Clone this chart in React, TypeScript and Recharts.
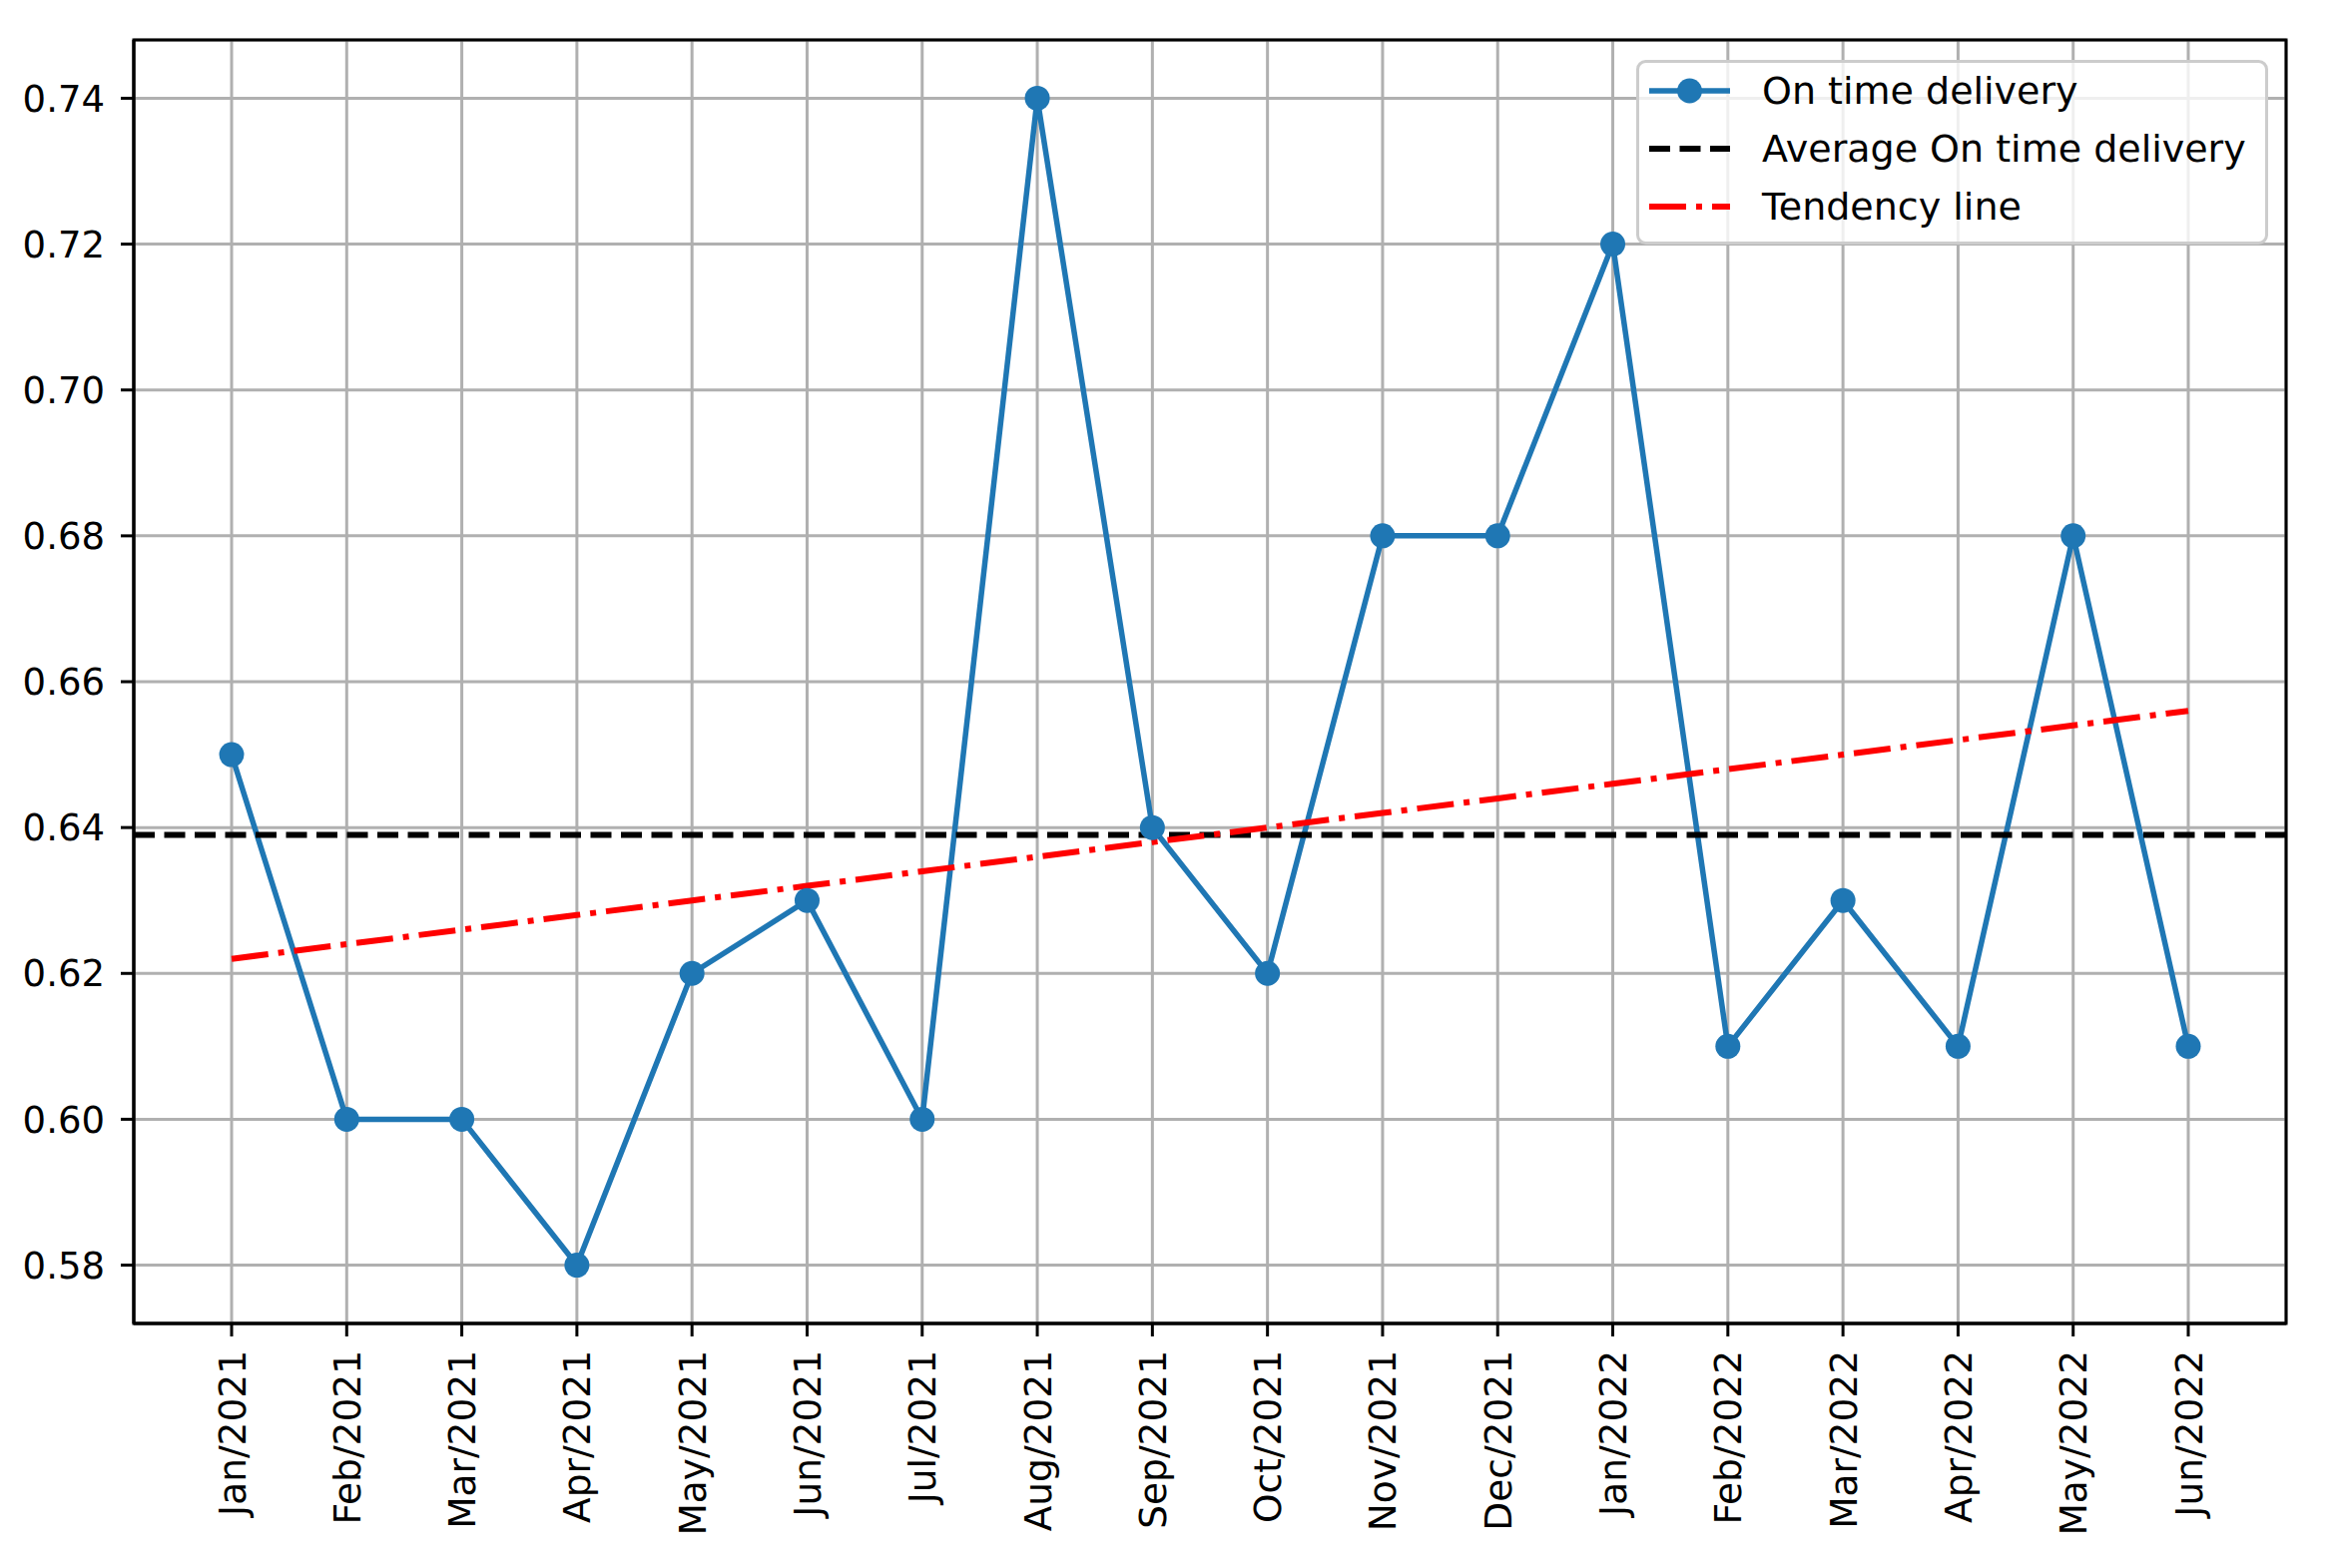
import React from "react";
import {
  LineChart,
  Line,
  XAxis,
  YAxis,
  CartesianGrid,
  ReferenceLine,
  ReferenceArea,
} from "recharts";

const MONTHS = [
  "Jan/2021", "Feb/2021", "Mar/2021", "Apr/2021", "May/2021", "Jun/2021",
  "Jul/2021", "Aug/2021", "Sep/2021", "Oct/2021", "Nov/2021", "Dec/2021",
  "Jan/2022", "Feb/2022", "Mar/2022", "Apr/2022", "May/2022", "Jun/2022",
];
const ON_TIME = [
  0.65, 0.6, 0.6, 0.58, 0.62, 0.63, 0.6, 0.74, 0.64,
  0.62, 0.68, 0.68, 0.72, 0.61, 0.63, 0.61, 0.68, 0.61,
];
const TENDENCY = [
  0.622, 0.624, 0.626, 0.628, 0.63, 0.632, 0.634, 0.636, 0.638,
  0.64, 0.642, 0.644, 0.646, 0.648, 0.65, 0.652, 0.654, 0.656,
];
const AVERAGE = 0.639;
const Y_TICKS = [0.58, 0.6, 0.62, 0.64, 0.66, 0.68, 0.7, 0.72, 0.74];

const FONT = "DejaVu Sans";
const BLUE = "#1f77b4";
const RED = "#ff0000";
const X_DOMAIN = [-0.85, 17.85];
const Y_DOMAIN = [0.572, 0.748];

const data = MONTHS.map((month, i) => ({
  idx: i,
  month,
  onTime: ON_TIME[i],
  tendency: TENDENCY[i],
}));
const xTicks = MONTHS.map((_, i) => i);

function MonthTick({ x, y, payload }: any) {
  return (
    <g transform={`translate(${x},${y})`}>
      <text
        transform="rotate(-90)"
        textAnchor="end"
        dy="0.36em"
        fontSize={37.5}
        fontFamily={FONT}
        fill="#000"
      >
        {MONTHS[payload.value]}
      </text>
    </g>
  );
}

function LegendBox() {
  const rows = [
    { label: "On time delivery", y: 31 },
    { label: "Average On time delivery", y: 89 },
    { label: "Tendency line", y: 147 },
  ];
  return (
    <svg
      width={634}
      height={186}
      style={{ position: "absolute", left: 1639, top: 60 }}
    >
      <rect
        x={1.5}
        y={1.5}
        width={630}
        height={182}
        rx={8}
        fill="#fff"
        fillOpacity={0.8}
        stroke="#cccccc"
        strokeWidth={3}
      />
      <line x1={13} x2={94} y1={rows[0].y} y2={rows[0].y} stroke={BLUE} strokeWidth={5.5} />
      <circle cx={53.5} cy={rows[0].y} r={12.5} fill={BLUE} />
      <line
        x1={13} x2={94} y1={rows[1].y} y2={rows[1].y}
        stroke="#000" strokeWidth={6} strokeDasharray="21 9.5"
      />
      <line
        x1={13} x2={94} y1={rows[2].y} y2={rows[2].y}
        stroke={RED} strokeWidth={6} strokeDasharray="37 10 6 10"
      />
      {rows.map((r) => (
        <text
          key={r.label}
          x={126}
          y={r.y + 13}
          fontSize={38}
          fontFamily={FONT}
          fill="#000"
        >
          {r.label}
        </text>
      ))}
    </svg>
  );
}

export default function App() {
  const axisStroke = { stroke: "#000", strokeWidth: 3 };
  return (
    <div
      style={{
        position: "absolute",
        left: 0,
        top: 0,
        width: 2346,
        height: 1571,
        background: "#fff",
      }}
    >
      <LineChart
        width={2346}
        height={1571}
        data={data}
        margin={{ top: 40, right: 56, bottom: 0, left: 0 }}
      >
        <CartesianGrid stroke="#b0b0b0" strokeWidth={3} />
        <XAxis
          type="number"
          dataKey="idx"
          domain={X_DOMAIN}
          ticks={xTicks}
          interval={0}
          allowDataOverflow
          height={245}
          tickSize={13}
          tickMargin={14}
          tick={<MonthTick />}
          tickLine={axisStroke}
          axisLine={axisStroke}
        />
        <XAxis
          xAxisId="top"
          orientation="top"
          type="number"
          dataKey="idx"
          domain={X_DOMAIN}
          allowDataOverflow
          height={0}
          tick={false}
          tickLine={false}
          axisLine={axisStroke}
        />
        <YAxis
          type="number"
          domain={Y_DOMAIN}
          ticks={Y_TICKS}
          allowDataOverflow
          width={134}
          tickSize={13}
          tickMargin={16}
          tickFormatter={(v: number) => v.toFixed(2)}
          tick={{ fontSize: 37, fill: "#000", fontFamily: FONT }}
          tickLine={axisStroke}
          axisLine={axisStroke}
        />
        <YAxis
          yAxisId="right"
          orientation="right"
          type="number"
          domain={Y_DOMAIN}
          allowDataOverflow
          width={0}
          tick={false}
          tickLine={false}
          axisLine={axisStroke}
        />
        <ReferenceArea
          x1={X_DOMAIN[0]}
          x2={X_DOMAIN[1]}
          y1={Y_DOMAIN[0]}
          y2={Y_DOMAIN[1]}
          fill="none"
          stroke="#000"
          strokeWidth={3}
          ifOverflow="visible"
        />
        <Line
          dataKey="onTime"
          stroke={BLUE}
          strokeWidth={5.5}
          dot={{ r: 12.5, fill: BLUE, stroke: BLUE, strokeWidth: 0 }}
          activeDot={false}
          isAnimationActive={false}
        />
        <ReferenceLine
          y={AVERAGE}
          stroke="#000"
          strokeWidth={6}
          strokeDasharray="21 9.5"
        />
        <Line
          dataKey="tendency"
          stroke={RED}
          strokeWidth={6}
          strokeDasharray="37 10 6 10"
          dot={false}
          activeDot={false}
          isAnimationActive={false}
        />
      </LineChart>
      <LegendBox />
    </div>
  );
}
